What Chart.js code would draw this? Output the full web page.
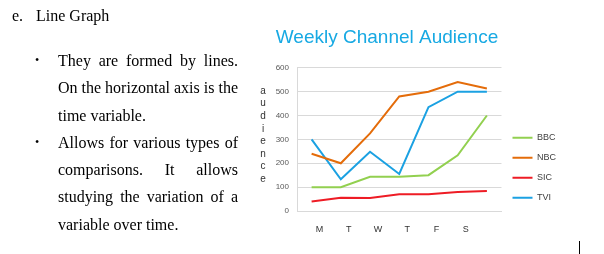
<!DOCTYPE html>
<html>
<head>
	<title>Weekly Channel Audience</title>
	<script src="https://cdn.jsdelivr.net/npm/chart.js@4.4.0/dist/chart.umd.min.js"></script>
<style>
	body { margin: 0; width: 604px; height: 254px; overflow: hidden; background: #fff; position: relative; }
	#chart { position: absolute; left: 0; top: 0; }
	#doc { position: absolute; left: 0; top: 0; font-family: 'Liberation Serif', serif; font-size: 16px; color: #000; pointer-events: none; }
	#doc .head { position: absolute; left: 12px; top: 2px; line-height: 27px; white-space: nowrap; }
	#doc .head span { display: inline-block; width: 24px; }
	#doc ul { position: absolute; left: 58px; top: 47px; width: 180px; margin: 0; padding: 0; list-style: none; }
	#doc li { position: relative; line-height: 27.3px; text-align: justify; }
	#doc li:before { content: '\2022'; position: absolute; left: -23px; font-size: 12px; }
	#cursor { position: absolute; left: 579px; top: 241px; width: 1px; height: 13px; background: #000; }
</style>
</head>
<body>
<canvas id="chart" width="604" height="254"></canvas>
<div id="doc">
	<div class="head"><span>e.</span>Line Graph</div>
	<ul>
		<li>They are formed by lines. On the horizontal axis is the time variable.</li>
		<li>Allows for various types of comparisons. It allows studying the variation of a variable over time.</li>
	</ul>
</div>
<div id="cursor"></div>

<script lang="text/javascript">
// values
var days = ['M', 'T', 'W', 'T', 'F', 'S', ''];
var bbc = [100, 100, 143, 143, 150, 233, 400];
var nbc = [240, 200, 325, 480, 500, 540, 513];
var sic = [40, 56, 54, 70, 70, 80, 84];
var tvi = [300, 133, 248, 155, 435, 500, 500];
var chartTitle = 'Weekly Channel Audience';
var yTitle = 'audience';

function series(label, values, color) {
	return {
		label : label,
		data : values,
		borderColor : color,
		backgroundColor : color,
		borderWidth : 2,
		pointRadius : 0,
		tension : 0,
		fill : false
	};
}

// stacked, upright letters for the y axis title
var stackedTitle = {
	id : 'stackedTitle',
	afterDraw : function(chart) {
		var ctx = chart.ctx;
		ctx.save();
		ctx.font = '10px "Liberation Sans"';
		ctx.fillStyle = '#333333';
		ctx.textAlign = 'center';
		ctx.textBaseline = 'middle';
		for (var i = 0; i < yTitle.length; i++)
			ctx.fillText(yTitle[i], 263, 91 + i * 12.6);
		ctx.restore();
	}
};

var ctx = document.getElementById('chart');
var chart = new Chart(ctx, {
	type : 'line',
	data : {
		labels : days,
		datasets : [
			series('BBC', bbc, '#92d050'),
			series('NBC', nbc, '#e46c0a'),
			series('SIC', sic, '#ee1c25'),
			series('TVI', tvi, '#1ba1e2')
		]
	},
	options : {
		responsive : false,
		animation : false,
		devicePixelRatio : 1,
		layout : {
			padding : { left : 208, right : 38, top : 0, bottom : 0 }
		},
		plugins : {
			title : {
				display : true,
				text : chartTitle,
				color : '#17a9e3',
				font : { family : 'Liberation Sans', size : 19, weight : 'normal' },
				padding : { top : 26, bottom : 19 }
			},
			legend : {
				position : 'right',
				align : 'center',
				title : {
					display : true,
					text : ' ',
					font : { size : 8 },
					padding : { top : 72, bottom : 0 }
				},
				labels : {
					usePointStyle : true,
					pointStyle : 'line',
					pointStyleWidth : 20,
					padding : 11,
					color : '#404040',
					font : { family : 'Liberation Sans', size : 9 }
				}
			},
			tooltip : { enabled : false }
		},
		scales : {
			x : {
				offset : true,
				grid : { display : false, drawTicks : false },
				border : { display : true, color : '#d9d9d9' },
				ticks : {
					color : '#333333',
					padding : 13,
					labelOffset : 8,
					maxRotation : 0,
					autoSkip : false,
					font : { family : 'Liberation Sans', size : 9 }
				},
				afterFit : function(scale) { scale.height = 43; }
			},
			y : {
				min : 0,
				max : 600,
				grid : { color : '#d9d9d9', drawTicks : false },
				border : { display : true, color : '#d9d9d9' },
				ticks : {
					stepSize : 100,
					color : '#595959',
					padding : 8,
					font : { family : 'Liberation Sans', size : 8 }
				},
				afterFit : function(scale) { scale.width = 89; }
			}
		}
	},
	plugins : [stackedTitle]
});
</script>
</body>
</html>
